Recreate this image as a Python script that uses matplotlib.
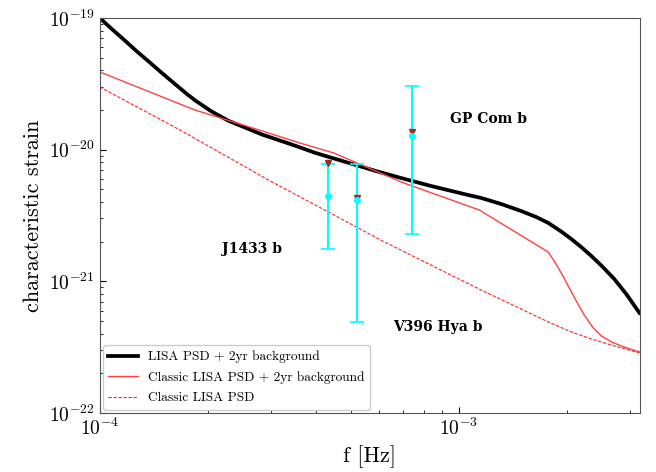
import numpy as np
import matplotlib
matplotlib.use("Agg")
import matplotlib.pyplot as plt

plt.rcParams['font.family'] = 'serif'
plt.rcParams['font.serif'] = ['cmr10']
plt.rcParams['mathtext.fontset'] = 'cm'
plt.rcParams['axes.formatter.use_mathtext'] = True

# LISA PSD + 2yr background (black)
f_lisa = [1.000e-4, 1.080e-4, 1.174e-4, 1.269e-4, 1.379e-4, 1.490e-4, 1.620e-4, 1.750e-4,
          1.842e-4, 2.042e-4, 2.278e-4, 2.541e-4, 2.835e-4, 3.183e-4, 3.505e-4, 3.988e-4,
          4.533e-4, 5.157e-4, 5.864e-4, 6.887e-4, 8.353e-4, 1.059e-3, 1.152e-3, 1.310e-3,
          1.490e-3, 1.641e-3, 1.772e-3, 1.927e-3, 2.055e-3, 2.192e-3, 2.337e-3, 2.492e-3,
          2.710e-3, 2.927e-3, 3.183e-3]
h_lisa = [1.00e-19, 8.25e-20, 6.75e-20, 5.57e-20, 4.59e-20, 3.82e-20, 3.15e-20, 2.64e-20,
          2.37e-20, 1.96e-20, 1.66e-20, 1.47e-20, 1.30e-20, 1.17e-20, 1.07e-20, 9.44e-21,
          8.50e-21, 7.65e-21, 6.89e-21, 6.10e-21, 5.30e-21, 4.53e-21, 4.30e-21, 3.87e-21,
          3.42e-21, 3.08e-21, 2.78e-21, 2.39e-21, 2.10e-21, 1.82e-21, 1.56e-21, 1.32e-21,
          1.04e-21, 7.99e-22, 5.76e-22]

# Classic LISA PSD + 2yr background (red solid)
f_classic_bg = [1.0e-4, 1.84e-4, 2.71e-4, 3.62e-4, 4.48e-4, 5.86e-4, 6.89e-4, 1.14e-3,
                1.772e-3, 1.842e-3, 1.927e-3, 2.016e-3, 2.122e-3, 2.234e-3, 2.367e-3,
                2.492e-3, 2.659e-3, 2.871e-3, 3.183e-3]
h_classic_bg = [3.89e-20, 2.0e-20, 1.44e-20, 1.12e-20, 9.44e-21, 6.89e-21, 5.69e-21, 3.48e-21,
                1.67e-21, 1.43e-21, 1.16e-21, 9.23e-22, 7.10e-22, 5.56e-22, 4.43e-22,
                3.85e-22, 3.47e-22, 3.18e-22, 2.91e-22]

# Classic LISA PSD (red dashed)
f_classic = [1.000e-4, 1.673e-4, 2.946e-4, 4.334e-4, 6.053e-4, 8.353e-4, 1.152e-3, 1.490e-3,
             1.772e-3, 2.055e-3, 2.337e-3, 2.710e-3, 3.183e-3]
h_classic = [2.99e-20, 1.41e-20, 5.89e-21, 3.36e-21, 2.06e-21, 1.33e-21, 8.60e-22, 6.17e-22,
             4.92e-22, 4.13e-22, 3.65e-22, 3.23e-22, 2.86e-22]

# sources
src_names = ['J1433 b', 'V396 Hya b', 'GP Com b']
src_f = [4.33e-4, 5.21e-4, 7.40e-4]
src_h = [4.43e-21, 4.15e-21, 1.27e-20]
src_low = [1.75e-21, 4.94e-22, 2.28e-21]
src_high = [7.74e-21, 7.74e-21, 3.06e-20]
src_tri = [7.88e-21, 4.28e-21, 1.37e-20]
label_f = [2.19e-4, 6.55e-4, 9.44e-4]
label_h = [1.76e-21, 4.5e-22, 1.71e-20]

fig = plt.figure(figsize=(6.56, 4.72), dpi=100)
ax = fig.add_axes([0.152, 0.125, 0.824, 0.837])

ax.loglog(f_lisa, h_lisa, color='black', lw=2.7, label='LISA PSD + 2yr background')
ax.loglog(f_classic_bg, h_classic_bg, color='#ff4040', lw=1.0,
          label='Classic LISA PSD + 2yr background')
ax.loglog(f_classic, h_classic, color='#ff2020', lw=0.8, ls='--',
          dashes=(3, 1.5), label='Classic LISA PSD')

src_h = np.array(src_h)
yerr = [src_h - np.array(src_low), np.array(src_high) - src_h]
ax.errorbar(src_f, src_h, yerr=yerr, fmt='o', color='cyan', ms=4,
            capsize=5, lw=1.5, capthick=1.2)
ax.plot(src_f, src_tri, 'v', color='#9b2d2d', ms=4)

for name, x, y in zip(src_names, label_f, label_h):
    ax.text(x, y, name, family='DejaVu Serif', fontweight='bold', fontsize=10,
            ha='left', va='center')

ax.set_xlim(1e-4, 3.2e-3)
ax.set_ylim(1e-22, 1e-19)
ax.set_xlabel('f [Hz]', fontsize=16)
ax.set_ylabel('characteristic strain', fontsize=16)
ax.tick_params(which='both', direction='in')
ax.tick_params(which='major', labelsize=14, length=4)
ax.tick_params(which='minor', length=2)
for s in ax.spines.values():
    s.set_color('#555555')

ax.legend(loc='lower left', fontsize=9.6, framealpha=1, borderaxespad=0.25,
          handlelength=2.2, labelspacing=0.6)

fig.savefig('out.png', dpi=100)
